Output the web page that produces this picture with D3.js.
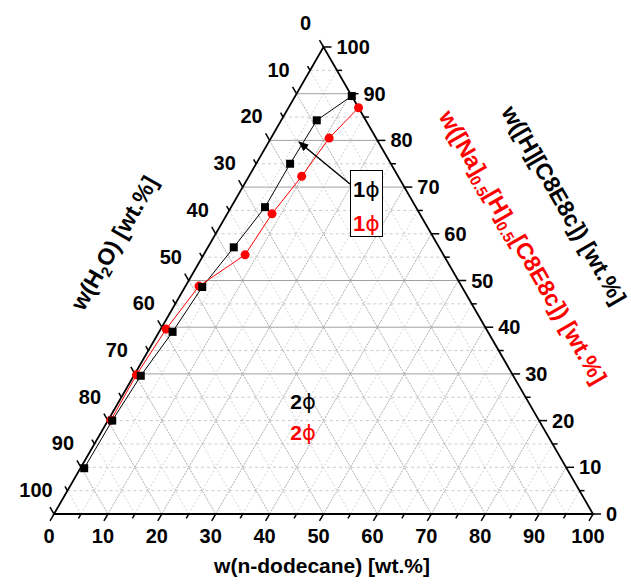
<!DOCTYPE html>
<html>
<head>
<meta charset="utf-8">
<script src="https://cdn.jsdelivr.net/npm/d3@7"></script>
<style>
  body { margin: 0; background: #ffffff; }
  #chart { width: 631px; height: 587px; }
  text { font-family: Arial, "Liberation Sans", sans-serif; }
</style>
</head>
<body>
<div id="chart"></div>
<script>
// composition of the black series ([H][C8E8c]), wt.% surfactant and wt.% n-dodecane
const blackSurf = [9.8, 20, 29.6, 39, 48.6, 57.1, 65.7, 75, 84.3, 89.5];
const blackDodecane = [0.7, 0.8, 1.3, 2.5, 3.2, 4.8, 6.3, 6.3, 6.6, 10.5];

// composition of the red series ([Na]0.5[H]0.5[C8E8c])
const redSurf = [20.1, 29.8, 39.6, 48.8, 55.5, 64.3, 72.3, 80.5, 87];
const redDodecane = [0.5, 0.4, 1.0, 2.5, 7.7, 8.3, 9.8, 10.8, 13];

// tick values shared by the three axes
const tickValues = d3.range(0, 101, 10);
const minorValues = d3.range(5, 100, 10);
const gridValues = d3.range(5, 100, 5);
// horizontal grid lines that show up as solid in the original
const solidRows = [30, 40, 50, 70, 80, 90];

const width = 631;
const height = 587;

const svg = d3.select("#chart")
  .append("svg")
  .attr("width", width)
  .attr("height", height);

// triangle corners: left = water, right = n-dodecane, apex = surfactant
const cornerL = [54, 514];
const cornerR = [593, 514];
const apex = [323.5, 47];

// scales that turn a composition into a pixel position
const dodecaneX = d3.scaleLinear().domain([0, 100]).range([0, cornerR[0] - cornerL[0]]);
const surfX = d3.scaleLinear().domain([0, 100]).range([0, apex[0] - cornerL[0]]);
const surfY = d3.scaleLinear().domain([0, 100]).range([cornerL[1], apex[1]]);

function proj(d, s) {
  return [cornerL[0] + dodecaneX(d) + surfX(s), surfY(s)];
}

// grid lines
const grid = svg.append("g");

gridValues.forEach(function(v) {
  const major = v % 10 === 0;
  const solid = solidRows.indexOf(v) >= 0;
  // constant surfactant (horizontal)
  const a = proj(0, v), b = proj(100 - v, v);
  grid.append("line")
    .attr("x1", a[0]).attr("y1", a[1]).attr("x2", b[0]).attr("y2", b[1])
    .attr("stroke", solid ? "#a0a0a0" : "#cccccc")
    .attr("stroke-dasharray", solid ? null : "3,3")
    .attr("stroke-width", 1);
  // constant dodecane
  const c = proj(v, 0), e = proj(v, 100 - v);
  grid.append("line")
    .attr("x1", c[0]).attr("y1", c[1]).attr("x2", e[0]).attr("y2", e[1])
    .attr("stroke", major ? "#999999" : "#c8c8c8")
    .attr("stroke-dasharray", major ? "2,1" : "2,2")
    .attr("stroke-width", 0.8);
  // constant water
  const f = proj(100 - v, 0), g = proj(0, 100 - v);
  grid.append("line")
    .attr("x1", f[0]).attr("y1", f[1]).attr("x2", g[0]).attr("y2", g[1])
    .attr("stroke", major ? "#999999" : "#c8c8c8")
    .attr("stroke-dasharray", major ? "2,1" : "2,2")
    .attr("stroke-width", 0.8);
});

// triangle frame
svg.append("path")
  .attr("d", "M" + cornerL + "L" + cornerR + "L" + apex + "Z")
  .attr("fill", "none")
  .attr("stroke", "#000")
  .attr("stroke-width", 1.8);

// ticks and labels
const axes = svg.append("g").attr("font-size", 20).attr("font-weight", "bold");
const allTicks = tickValues.concat(minorValues);

allTicks.forEach(function(v) {
  const len = v % 10 === 0 ? 8 : 5;
  // bottom axis: n-dodecane, ticks point down-left
  let p = proj(v, 0);
  axes.append("line")
    .attr("x1", p[0]).attr("y1", p[1])
    .attr("x2", p[0] - 0.5 * len).attr("y2", p[1] + 0.866 * len)
    .attr("stroke", "#000").attr("stroke-width", 1.5);
  // right axis: surfactant, ticks point right
  p = proj(100 - v, v);
  axes.append("line")
    .attr("x1", p[0]).attr("y1", p[1])
    .attr("x2", p[0] + len).attr("y2", p[1])
    .attr("stroke", "#000").attr("stroke-width", 1.5);
  // left axis: water, ticks point up-left
  p = proj(0, 100 - v);
  axes.append("line")
    .attr("x1", p[0]).attr("y1", p[1])
    .attr("x2", p[0] - 0.5 * len).attr("y2", p[1] - 0.866 * len)
    .attr("stroke", "#000").attr("stroke-width", 1.5);
});

tickValues.forEach(function(v) {
  let p = proj(v, 0);
  axes.append("text")
    .attr("x", p[0] - 5).attr("y", p[1] + 29)
    .attr("text-anchor", "middle")
    .text(v);
  p = proj(100 - v, v);
  axes.append("text")
    .attr("x", p[0] + 13).attr("y", p[1] + 7)
    .attr("text-anchor", "start")
    .text(v);
  p = proj(0, 100 - v);
  axes.append("text")
    .attr("x", p[0] - 18).attr("y", p[1] - 17)
    .attr("text-anchor", "middle")
    .text(v);
});

// axis titles
svg.append("text")
  .attr("x", 322).attr("y", 573)
  .attr("text-anchor", "middle")
  .attr("font-size", 21).attr("font-weight", "bold")
  .text("w(n-dodecane) [wt.%]");

const waterTitle = svg.append("text")
  .attr("transform", "translate(121,247) rotate(-60)")
  .attr("text-anchor", "middle")
  .attr("font-size", 23).attr("font-weight", "bold");
waterTitle.append("tspan").text("w(H");
waterTitle.append("tspan").attr("font-size", 15).attr("dy", 5).text("2");
waterTitle.append("tspan").attr("dy", -5).text("O) [wt.%]");

svg.append("text")
  .attr("transform", "translate(557,209) rotate(60)")
  .attr("text-anchor", "middle")
  .attr("font-size", 23).attr("font-weight", "bold")
  .text("w([H][C8E8c]) [wt.%]");

const redTitle = svg.append("text")
  .attr("transform", "translate(516,251) rotate(60)")
  .attr("text-anchor", "middle")
  .attr("font-size", 23).attr("font-weight", "bold")
  .attr("fill", "#ff0000");
redTitle.append("tspan").text("w([Na]");
redTitle.append("tspan").attr("font-size", 15).attr("dy", 5).text("0.5");
redTitle.append("tspan").attr("dy", -5).text("[H]");
redTitle.append("tspan").attr("font-size", 15).attr("dy", 5).text("0.5");
redTitle.append("tspan").attr("dy", -5).text("[C8E8c]) [wt.%]");

// data lines
const line = d3.line()
  .x(function(d) { return proj(d.d, d.s)[0]; })
  .y(function(d) { return proj(d.d, d.s)[1]; });

const blackData = blackSurf.map(function(s, i) { return { s: s, d: blackDodecane[i] }; });
const redData = redSurf.map(function(s, i) { return { s: s, d: redDodecane[i] }; });

svg.append("path")
  .datum(blackData)
  .attr("d", line)
  .attr("fill", "none")
  .attr("stroke", "#000")
  .attr("stroke-width", 1);

svg.append("path")
  .datum(redData)
  .attr("d", line)
  .attr("fill", "none")
  .attr("stroke", "#ff0000")
  .attr("stroke-width", 1);

svg.selectAll("circle")
  .data(redData)
  .enter().append("circle")
  .attr("cx", function(d) { return proj(d.d, d.s)[0]; })
  .attr("cy", function(d) { return proj(d.d, d.s)[1]; })
  .attr("r", 4.5)
  .attr("fill", "#ff0000");

svg.selectAll("rect.sq")
  .data(blackData)
  .enter().append("rect")
  .attr("class", "sq")
  .attr("x", function(d) { return proj(d.d, d.s)[0] - 4; })
  .attr("y", function(d) { return proj(d.d, d.s)[1] - 4; })
  .attr("width", 8)
  .attr("height", 8)
  .attr("fill", "#000");

// legend box with arrow to the black curve
svg.append("defs").append("marker")
  .attr("id", "arrow")
  .attr("viewBox", "0 0 10 10")
  .attr("refX", 9).attr("refY", 5)
  .attr("markerWidth", 7).attr("markerHeight", 7)
  .attr("orient", "auto")
  .append("path")
  .attr("d", "M0,1L10,5L0,9Z")
  .attr("fill", "#000");

svg.append("line")
  .attr("x1", 350).attr("y1", 184)
  .attr("x2", 299).attr("y2", 142)
  .attr("stroke", "#000")
  .attr("stroke-width", 1.5)
  .attr("marker-end", "url(#arrow)");

svg.append("rect")
  .attr("x", 350.5).attr("y", 170.5)
  .attr("width", 32).attr("height", 66)
  .attr("fill", "#fff")
  .attr("stroke", "#000");

function phase(x, y, num, color, size) {
  const t = svg.append("text")
    .attr("x", x).attr("y", y)
    .attr("text-anchor", "middle")
    .attr("font-size", size)
    .attr("fill", color);
  t.append("tspan").attr("font-weight", "bold").text(num);
  t.append("tspan").attr("font-family", "DejaVu Sans").text("\u03d5");
}

phase(366.5, 197, "1", "#000", 22);
phase(366.5, 231, "1", "#ff0000", 22);
phase(303, 409, "2", "#000", 21);
phase(303, 440, "2", "#ff0000", 21);
</script>
</body>
</html>
